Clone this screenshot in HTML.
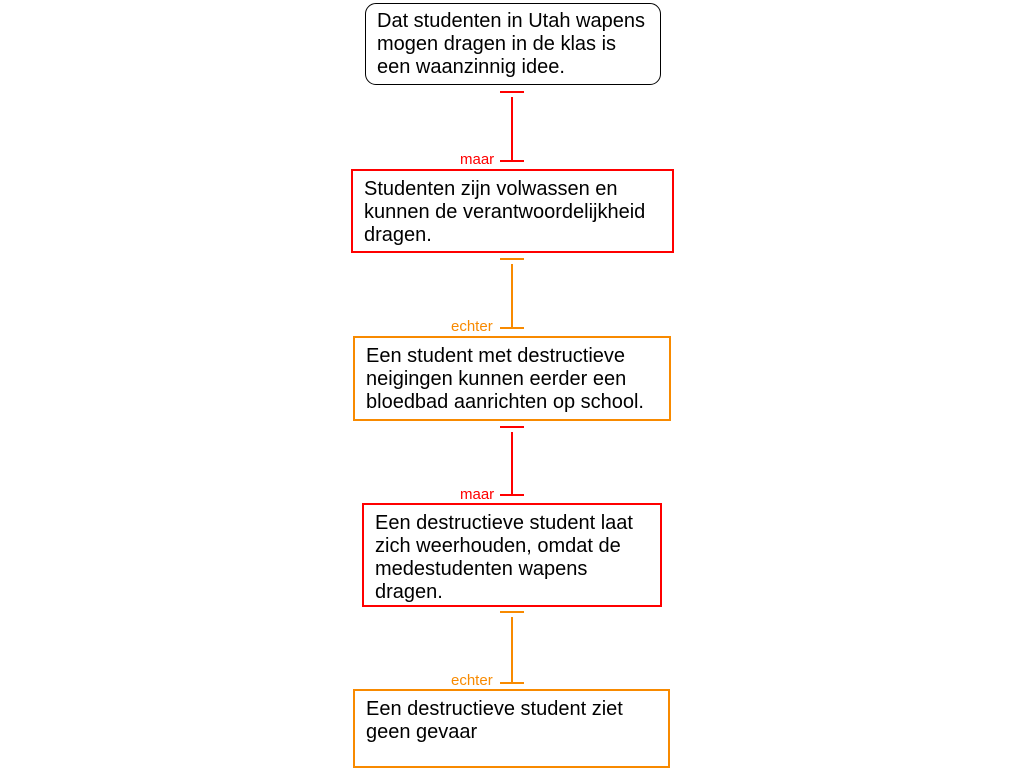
<!DOCTYPE html>
<html><head><meta charset="utf-8"><style>
body{margin:0;width:1024px;height:768px;background:#fff;position:relative;overflow:hidden;font-family:"Liberation Sans",Arial,sans-serif}
.b{position:absolute;box-sizing:border-box;font-size:20px;line-height:23px;color:#000;padding:7px 11px;white-space:nowrap}
.r{border:2px solid #f00}
.o{border:2px solid #f88a00}
.l{position:absolute;font-size:15px;line-height:15px}
</style></head><body>
<div class="b" style="left:365px;top:3px;width:296px;height:82px;border:1px solid #000;border-radius:11px;padding:6px 11px">Dat studenten in Utah wapens<br>mogen dragen in de klas is<br>een waanzinnig idee.</div>
<div class="b r" style="left:351px;top:169px;width:323px;height:84px">Studenten zijn volwassen en<br>kunnen de verantwoordelijkheid<br>dragen.</div>
<div class="b o" style="left:353px;top:336px;width:318px;height:85px">Een student met destructieve<br>neigingen kunnen eerder een<br>bloedbad aanrichten op school.</div>
<div class="b r" style="left:362px;top:503px;width:300px;height:104px">Een destructieve student laat<br>zich weerhouden, omdat de<br>medestudenten wapens<br>dragen.</div>
<div class="b o" style="left:353px;top:689px;width:317px;height:79px">Een destructieve student ziet<br>geen gevaar</div>
<svg width="1024" height="768" style="position:absolute;left:0;top:0" stroke-width="2">
<g stroke="#f00"><line x1="500" y1="92" x2="524" y2="92"/><line x1="512" y1="97" x2="512" y2="160"/><line x1="500" y1="161" x2="524" y2="161"/></g>
<g stroke="#f88a00"><line x1="500" y1="259" x2="524" y2="259"/><line x1="512" y1="264" x2="512" y2="327"/><line x1="500" y1="328" x2="524" y2="328"/></g>
<g stroke="#f00"><line x1="500" y1="427" x2="524" y2="427"/><line x1="512" y1="432" x2="512" y2="494"/><line x1="500" y1="495" x2="524" y2="495"/></g>
<g stroke="#f88a00"><line x1="500" y1="612" x2="524" y2="612"/><line x1="512" y1="617" x2="512" y2="682"/><line x1="500" y1="683" x2="524" y2="683"/></g>
</svg>
<div class="l" style="left:460px;top:152px;color:#f00">maar</div>
<div class="l" style="left:451px;top:319px;color:#f88a00">echter</div>
<div class="l" style="left:460px;top:487px;color:#f00">maar</div>
<div class="l" style="left:451px;top:673px;color:#f88a00">echter</div>
</body></html>
